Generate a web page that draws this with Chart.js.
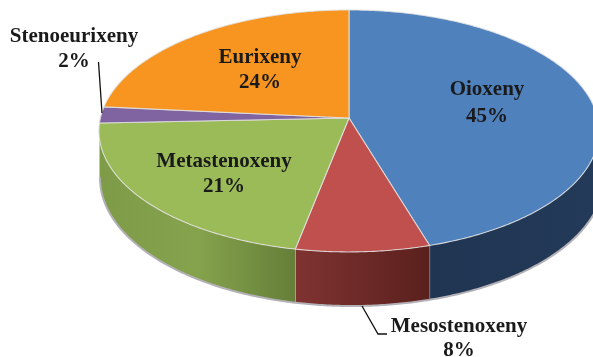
<!DOCTYPE html>
<html>
<head>
<meta charset="utf-8">
<style>
  html, body { margin: 0; padding: 0; background: #fff; overflow: hidden; }
  #box { position: relative; width: 593px; height: 357px; }
  canvas { filter: blur(0.35px); }
</style>
<script src="https://cdn.jsdelivr.net/npm/chart.js@4"></script>
</head>
<body>
<div id="box"><canvas id="chart-1"></canvas></div>
<script>
const categories = ["Oioxeny", "Mesostenoxeny", "Metastenoxeny", "Stenoeurixeny", "Eurixeny"];
const shares = [45.3, 7.8, 21.23, 2.17, 23.5];
const topColors = ["#4f81bd", "#c0504d", "#9bbb59", "#8064a2", "#f79520"];
const wallColors = [
  ["#1f3552", "#233a58"],
  ["#7f3331", "#5a201d"],
  ["#7e9b48", "#85a34d", "#657f38"],
  ["#4f3d66", "#4f3d66"],
  ["#a5611a", "#a5611a"],
];
// label centres, one per category: [x, name y, percent y]
const labelSpots = [[487, 90, 117], [459, 327, 351], [224, 162, 187], [74, 37, 62], [260, 58, 83]];

// the slanted view of the pie: top face with perspective, then the floor ellipse
const view = { cx: 349, cy: 118, a: 248.6, b: 119.6, k: 0.107 };
const floorView = { cx: 352, cy: 178, a: 252, b: 128 };

function project(angle) {
  const u = Math.cos(angle), v = Math.sin(angle);
  const w = 1 - view.k * v;
  return { x: view.cx + view.a * u / w, y: view.cy + view.b * v / w, v };
}

function rim(start, end) {
  const pts = [];
  const n = Math.max(2, Math.ceil((end - start) / 0.01));
  for (let i = 0; i <= n; i++) pts.push(project(start + (end - start) * i / n));
  return pts;
}

// straight below a rim point, on the floor ellipse
function floorUnder(p) {
  const t = Math.min(1, Math.abs(p.x - floorView.cx) / floorView.a);
  return { x: p.x, y: floorView.cy + floorView.b * Math.sqrt(1 - t * t) };
}

const pie3d = {
  id: "pie3d",
  beforeDatasetDraw(chart, args) {
    const ctx = chart.ctx;
    const arcs = args.meta.data;

    // side walls first, only the part that faces the viewer
    arcs.forEach((arc, i) => {
      const front = rim(arc.startAngle, arc.endAngle).filter(p => p.v > 0);
      if (front.length < 12) return;
      const floor = front.map(floorUnder);
      const xs = front.map(p => p.x);
      const grad = ctx.createLinearGradient(Math.min(...xs), 0, Math.max(...xs), 0);
      wallColors[i].forEach((c, j) => grad.addColorStop(j / (wallColors[i].length - 1), c));
      ctx.beginPath();
      front.forEach((p, j) => j ? ctx.lineTo(p.x, p.y) : ctx.moveTo(p.x, p.y));
      floor.slice().reverse().forEach(p => ctx.lineTo(p.x, p.y));
      ctx.closePath();
      ctx.fillStyle = grad;
      ctx.fill();

      // grey edge along the floor
      ctx.beginPath();
      floor.forEach((p, j) => j ? ctx.lineTo(p.x, p.y) : ctx.moveTo(p.x, p.y));
      ctx.strokeStyle = "#b3b0b6";
      ctx.lineWidth = 2;
      ctx.stroke();

      // seams between the walls
      const a = project(arc.endAngle), b = floorUnder(a);
      if (a.v > 0.1) {
        ctx.beginPath();
        ctx.moveTo(a.x, a.y);
        ctx.lineTo(b.x, b.y);
        ctx.strokeStyle = "#c9c3c3";
        ctx.lineWidth = 1;
        ctx.stroke();
      }
    });

    arcs.forEach((arc, i) => {
      ctx.beginPath();
      ctx.moveTo(view.cx, view.cy);
      rim(arc.startAngle, arc.endAngle).forEach(p => ctx.lineTo(p.x, p.y));
      ctx.closePath();
      ctx.fillStyle = topColors[i];
      ctx.fill();
      ctx.strokeStyle = "rgba(226,226,226,0.85)";
      ctx.lineWidth = 1.1;
      ctx.stroke();
    });
    return false;
  },
  afterDatasetsDraw(chart) {
    const ctx = chart.ctx;

    // leader lines of the two labels outside the pie
    ctx.strokeStyle = "#111";
    ctx.lineWidth = 1.3;
    ctx.beginPath();
    ctx.moveTo(98.5, 62);
    ctx.lineTo(102, 113);
    ctx.moveTo(362, 306);
    ctx.lineTo(378, 334);
    ctx.lineTo(387, 334);
    ctx.stroke();

    ctx.font = "bold 21px 'Liberation Serif'";
    ctx.fillStyle = "#1a1a1a";
    ctx.textAlign = "center";
    ctx.textBaseline = "middle";
    categories.forEach((name, i) => {
      const [x, y1, y2] = labelSpots[i];
      ctx.fillText(name, x, y1);
      ctx.fillText(Math.round(shares[i]) + "%", x, y2);
    });
  },
};

const ctx1 = document.getElementById("chart-1").getContext("2d");
const myChart = new Chart(ctx1, {
  type: "pie",
  data: {
    labels: categories,
    datasets: [
      {
        data: shares,
        backgroundColor: topColors,
      },
    ],
  },
  options: {
    responsive: true,
    maintainAspectRatio: false,
    animation: false,
    plugins: {
      legend: { display: false },
      tooltip: { enabled: false },
    },
  },
  plugins: [pie3d],
});
</script>
</body>
</html>
